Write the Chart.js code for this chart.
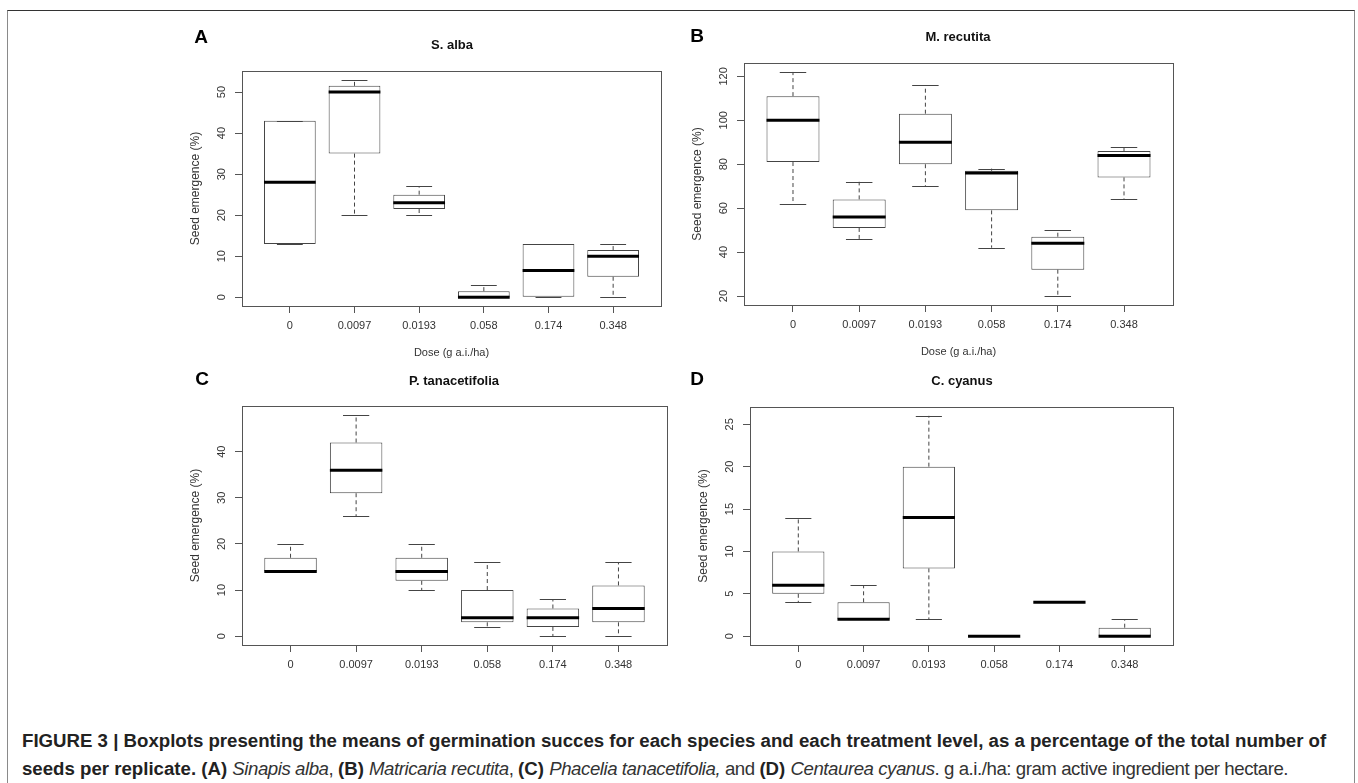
<!DOCTYPE html>
<html>
<head>
<meta charset="utf-8">
<script src="https://cdn.jsdelivr.net/npm/chart.js@4"></script>
<style>
  body { margin: 0; width: 1358px; height: 783px; overflow: hidden; background: #fff; position: relative;
         font-family: "Liberation Sans", Arial, Helvetica, sans-serif; }
  #frame { position: absolute; left: 7px; top: 10px; width: 1346px; height: 820px;
           border: 1px solid #8a8a8a; border-top-color: #333; }
  canvas { position: absolute; }
  .letter { position: absolute; font-weight: bold; font-size: 19px; color: #000; transform: translate(-50%, -50%); }
  .title { position: absolute; font-weight: bold; font-size: 13px; color: #111; white-space: nowrap; transform: translate(-50%, -50%); }
  #cap { position: absolute; left: 22px; top: 727px; line-height: 28px; color: #222; white-space: nowrap; font-size: 16px; }
  #cap b { font-weight: bold; }
  #cap .lt { letter-spacing: -0.45px; color: #333; }
</style>
</head>
<body>
<div id="frame"></div>

<canvas id="cA" width="520" height="340" style="left:160px;top:20px"></canvas>
<canvas id="cB" width="520" height="340" style="left:680px;top:20px"></canvas>
<canvas id="cC" width="520" height="320" style="left:160px;top:360px"></canvas>
<canvas id="cD" width="520" height="320" style="left:680px;top:360px"></canvas>

<div class="letter" style="left:201px;top:37px">A</div>
<div class="letter" style="left:697px;top:36px">B</div>
<div class="letter" style="left:202px;top:379px">C</div>
<div class="letter" style="left:697px;top:379px">D</div>

<div class="title" style="left:452px;top:44px">S. alba</div>
<div class="title" style="left:958px;top:36px">M. recutita</div>
<div class="title" style="left:454px;top:380px">P. tanacetifolia</div>
<div class="title" style="left:962px;top:380px">C. cyanus</div>

<div id="cap">
  <div><span id="line1"><b>FIGURE 3 | Boxplots presenting the means of germination succes for each species and each treatment level, as a percentage of the total number of</b></span></div>
  <div><b>seeds per replicate. (A)</b> <i class="lt">Sinapis alba</i><span class="lt">, </span><b>(B)</b> <i class="lt">Matricaria recutita</i><span class="lt">, </span><b>(C)</b> <i class="lt">Phacelia tanacetifolia,</i><span class="lt"> and </span><b>(D)</b> <i class="lt">Centaurea cyanus</i><span class="lt">. g a.i./ha: gram active ingredient per hectare.</span></div>
</div>

<script>
// doses on the x axis
const doses = ['0', '0.0097', '0.0193', '0.058', '0.174', '0.348'];

// [min, q1, median, q3, max] for each dose
const sAlba = [[13, 13, 28, 43, 43], [20, 35, 50, 51.5, 53], [20, 21.5, 23, 25, 27],
               [0, 0, 0, 1.5, 3], [0, 0, 6.5, 13, 13], [0, 5, 10, 11.5, 13]];
const mRecutita = [[62, 81, 100, 111, 122], [46, 51, 56, 64, 72], [70, 80, 90, 103, 116],
                   [42, 59, 76, 77, 78], [20, 32, 44, 47, 50], [64, 74, 84, 86, 88]];
const pTanacetifolia = [[14, 14, 14, 17, 20], [26, 31, 36, 42, 48], [10, 12, 14, 17, 20],
                        [2, 3, 4, 10, 16], [0, 2, 4, 6, 8], [0, 3, 6, 11, 16]];
const cCyanus = [[4, 5, 6, 10, 14], [2, 2, 2, 4, 6], [2, 8, 14, 20, 26],
                 [0, 0, 0, 0, 0], [4, 4, 4, 4, 4], [0, 0, 0, 1, 2]];

// y tick labels
const albaTicks = [0, 10, 20, 30, 40, 50];
const recutitaTicks = [20, 40, 60, 80, 100, 120];
const tanacetifoliaTicks = [0, 10, 20, 30, 40];
const cyanusTicks = [0, 5, 10, 15, 20, 25];

const xTitle = 'Dose (g a.i./ha)';
const yTitle = 'Seed emergence (%)';

const FONT = '"Liberation Sans", Arial, sans-serif';
const TXT = '#333';

// R style box plot: whiskers, staples, median, frame and rotated y labels
const boxPlot = {
  id: 'boxPlot',
  afterDatasetsDraw(chart, args, opts) {
    const { ctx, chartArea: a } = chart;
    const x = chart.scales.x, y = chart.scales.y;
    ctx.save();
    opts.stats.forEach((s, i) => {
      const cx = x.getPixelForValue(i + 1);
      const sw = x.getPixelForValue(i + 1.2) - cx;
      const bw = x.getPixelForValue(i + 1.4) - cx;
      const [mn, q1, md, q3, mx] = s.map(v => y.getPixelForValue(v));
      ctx.strokeStyle = '#444';
      ctx.lineWidth = 1;
      ctx.setLineDash([4, 3]);
      ctx.beginPath();
      ctx.moveTo(cx, q3); ctx.lineTo(cx, mx);
      ctx.moveTo(cx, q1); ctx.lineTo(cx, mn);
      ctx.stroke();
      ctx.setLineDash([]);
      ctx.beginPath();
      ctx.moveTo(cx - sw, Math.round(mx) + 0.5); ctx.lineTo(cx + sw, Math.round(mx) + 0.5);
      ctx.moveTo(cx - sw, Math.round(mn) + 0.5); ctx.lineTo(cx + sw, Math.round(mn) + 0.5);
      ctx.stroke();
      ctx.strokeStyle = '#000';
      ctx.lineWidth = 3;
      ctx.beginPath();
      ctx.moveTo(cx - bw, md); ctx.lineTo(cx + bw, md);
      ctx.stroke();
    });
    // plot box
    ctx.strokeStyle = '#555';
    ctx.lineWidth = 1;
    ctx.strokeRect(Math.round(a.left) + 0.5, Math.round(a.top) + 0.5,
                   Math.round(a.right - a.left), Math.round(a.bottom - a.top));
    // y tick labels, rotated like R
    ctx.fillStyle = TXT;
    ctx.font = '11px ' + FONT;
    ctx.textAlign = 'center';
    ctx.textBaseline = 'middle';
    y.ticks.forEach(t => {
      ctx.save();
      ctx.translate(a.left - 20, y.getPixelForValue(t.value));
      ctx.rotate(-Math.PI / 2);
      ctx.fillText(String(t.value), 0, 0);
      ctx.restore();
    });
    // axis titles
    ctx.fillText(xTitle, (a.left + a.right) / 2, a.bottom + 47);
    ctx.font = '12px ' + FONT;
    ctx.save();
    ctx.translate(a.left - 46, (a.top + a.bottom) / 2);
    ctx.rotate(-Math.PI / 2);
    ctx.fillText(yTitle, 0, 0);
    ctx.restore();
    ctx.restore();
  }
};

function makePanel(id, stats, tickVals, area) {
  const canvas = document.getElementById(id);
  const W = canvas.width, H = canvas.height;
  const lo = Math.min(...stats.map(s => s[0]));
  const hi = Math.max(...stats.map(s => s[4]));
  const pad = (hi - lo) * 0.04;
  new Chart(canvas, {
    type: 'bar',
    data: {
      datasets: [{
        data: stats.map((s, i) => ({ x: i + 1, y: [s[1], s[3]] })),
        backgroundColor: '#fff',
        borderColor: '#444',
        borderWidth: 1,
        borderSkipped: false,
        categoryPercentage: 1,
        barPercentage: 0.8
      }]
    },
    options: {
      responsive: false,
      animation: false,
      layout: { padding: { left: 0, top: area[1], right: W - area[2], bottom: 0 } },
      plugins: { legend: { display: false }, tooltip: { enabled: false }, boxPlot: { stats: stats } },
      scales: {
        x: {
          type: 'linear', min: 0.26, max: 6.74, offset: false,
          afterBuildTicks: s => { s.ticks = doses.map((d, i) => ({ value: i + 1 })); },
          afterFit: s => { s.height = H - area[3]; },
          grid: { offset: false, drawOnChartArea: false, drawTicks: true, tickLength: 7, color: '#555' },
          border: { display: false },
          ticks: { autoSkip: false, maxRotation: 0, minRotation: 0, padding: 6, color: TXT,
                   font: { family: FONT, size: 11 }, callback: v => doses[v - 1] }
        },
        y: {
          type: 'linear', min: lo - pad, max: hi + pad,
          afterBuildTicks: s => { s.ticks = tickVals.map(v => ({ value: v })); },
          afterFit: s => { s.width = area[0]; },
          grid: { offset: false, drawOnChartArea: false, drawTicks: true, tickLength: 7, color: '#555' },
          border: { display: false },
          ticks: { display: false }
        }
      }
    },
    plugins: [boxPlot]
  });
}

makePanel('cA', sAlba, albaTicks, [82, 51, 501, 286]);
makePanel('cB', mRecutita, recutitaTicks, [64, 43, 493, 285]);
makePanel('cC', pTanacetifolia, tanacetifoliaTicks, [82, 46, 507, 285]);
makePanel('cD', cCyanus, cyanusTicks, [70, 47, 493, 285]);

// fit the caption's first line to the width used in the figure
const l1 = document.getElementById('line1');
const cap = document.getElementById('cap');
const w = l1.getBoundingClientRect().width;
cap.style.fontSize = (16 * 1305 / w).toFixed(2) + 'px';
</script>
</body>
</html>
